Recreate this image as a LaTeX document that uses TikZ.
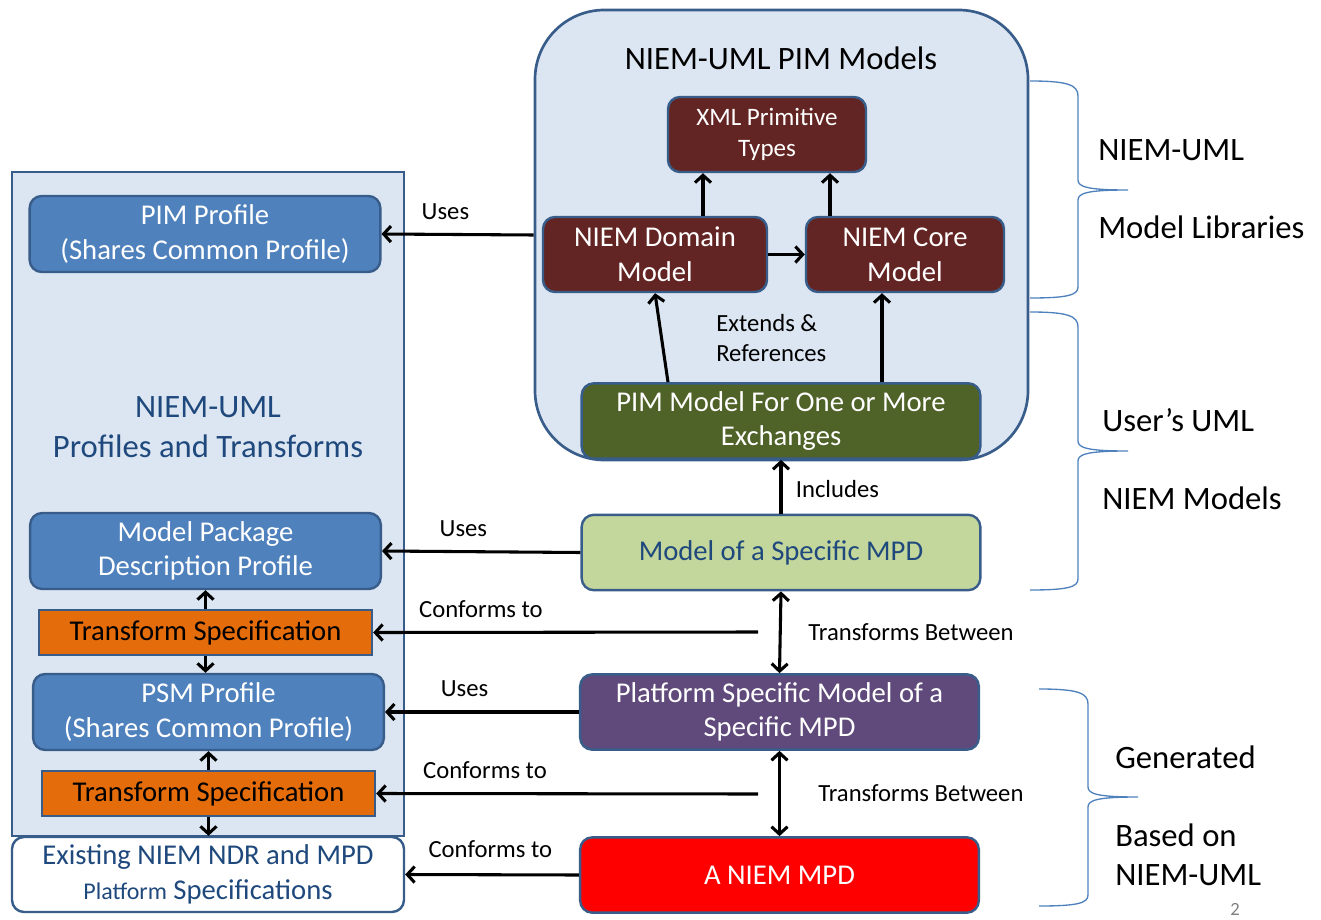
\documentclass[tikz,border=0pt]{standalone}
\usepackage{fontspec}
\setmainfont{Carlito}
\usetikzlibrary{arrows.meta}
\definecolor{panelblue}{HTML}{DCE6F2}
\definecolor{edgeblue}{HTML}{385D8A}
\definecolor{profblue}{HTML}{4F81BD}
\definecolor{libred}{HTML}{632523}
\definecolor{pimgreen}{HTML}{4F6228}
\definecolor{mpdgreen}{HTML}{C3D69B}
\definecolor{psmpurple}{HTML}{604A7B}
\definecolor{tsorange}{HTML}{E46C0A}
\definecolor{navytext}{HTML}{1F497D}
\newcommand{\boxfont}{\fontsize{21.5pt}{26pt}\selectfont}
\newcommand{\smallboxfont}{\fontsize{18.8pt}{23pt}\selectfont}
\newcommand{\lblfont}{\fontsize{18.5pt}{22.5pt}\selectfont}
\newcommand{\headfont}{\fontsize{24.5pt}{30pt}\selectfont}
\tikzset{>={Straight Barb[length=5.5pt,width=12pt]},
	panel/.style={rectangle,draw=edgeblue,fill=panelblue,line width=2pt},
	box/.style={rectangle,rounded corners=9pt,draw=edgeblue,line width=1.8pt,align=center,text=white,font=\boxfont,inner sep=0pt},
	libbox/.style={box,fill=libred,minimum height=56.25pt},
	profbox/.style={box,fill=profblue,minimum width=263pt,minimum height=57pt},
	tspec/.style={box,rounded corners=0pt,fill=tsorange,text=black,minimum width=249.75pt,minimum height=33.75pt},
	wide/.style={box,minimum width=299pt,minimum height=56.5pt},
	lbl/.style={font=\lblfont,inner sep=2pt},
	head/.style={font=\headfont,align=center},
	link/.style={line width=2.3pt},
	curly/.style={draw=profblue,line width=1pt}}
\begin{document}
\begin{tikzpicture}[x=0.75pt,y=-0.75pt]
	\useasboundingbox (0,0) rectangle (1321,920);
	\node (pimbox) at (781.5,235) [panel,rounded corners=52pt,minimum width=369.75pt,minimum height=337.5pt] {};
	\node (pimhead) at (781,58) [head] {NIEM-UML PIM Models};
	\node (xml) at (767,134.5) [libbox,minimum width=148.5pt,font=\smallboxfont] {XML Primitive\\Types};
	\node (domain) at (655,254.5) [libbox,minimum width=168pt] {NIEM Domain\\Model};
	\node (core) at (905,254.5) [libbox,minimum width=148.5pt] {NIEM Core\\Model};
	\node (pimmodel) at (781,421) [wide,fill=pimgreen] {PIM Model For One or More\\Exchanges};
	\node (extends) at (716,338) [lbl,anchor=west,align=left,inner sep=0pt] {Extends \&\\References};
	\node (profpanel) at (208,504) [panel,minimum width=294pt,minimum height=498pt] {};
	\node (profhead) at (208,427) [head,text=navytext] {NIEM-UML\\Profiles and Transforms};
	\node (pimprof) at (205,234) [profbox] {PIM Profile\\(Shares Common Profile)};
	\node (mpdprof) at (205.5,551) [profbox] {Model Package\\Description Profile};
	\node (ts1) at (205.5,632.5) [tspec] {Transform Specification};
	\node (psmprof) at (208.5,712) [profbox] {PSM Profile\\(Shares Common Profile)};
	\node (ts2) at (208.5,793.5) [tspec] {Transform Specification};
	\node (existing) at (208,874.5) [box,fill=white,text=navytext,minimum width=294pt,minimum height=56.25pt] {Existing NIEM NDR and MPD\\{\fontsize{18pt}{20pt}\selectfont Platform} Specifications};
	\node (specmpd) at (781,552.5) [wide,fill=mpdgreen,text=navytext] {Model of a Specific MPD};
	\node (psm) at (779.5,712) [wide,fill=psmpurple] {Platform Specific Model of a\\Specific MPD};
	\node (niemmpd) at (779.5,875) [wide,fill=red] {A NIEM MPD};
	\coordinate (cf1) at (758,632);
	\coordinate (cf2) at (758,794);
	\draw [link,->] ([xshift=36pt]domain.north) -- ([xshift=36pt]domain.north |- xml.south);
	\draw [link,->] ([xshift=-56.25pt]core.north) -- ([xshift=-56.25pt]core.north |- xml.south);
	\draw [link,->] (domain.east) -- (core.west);
	\draw [link,->] ([xshift=-84.75pt]pimmodel.north) -- (domain.south);
	\draw [link,->] ([xshift=75.75pt]pimmodel.north) -- ([xshift=75.75pt]pimmodel.north |- core.south);
	\draw [link,->] (specmpd.north) -- node[lbl,right=8pt,pos=0.45]{Includes} (pimmodel.south);
	\draw [link,<->] (specmpd.south) -- node[lbl,right=18pt,pos=0.5]{Transforms Between} (psm.north);
	\draw [link,<->] (psm.south) -- node[lbl,right=26pt,pos=0.5]{Transforms Between} (niemmpd.north);
	\draw [link,->] (pimbox.west) -- node[lbl,above=8pt,pos=0.58]{Uses} (pimprof.east);
	\draw [link,->] (specmpd.west) -- node[lbl,above=8pt,pos=0.59]{Uses} (mpdprof.east);
	\draw [link,->] (cf1) -- node[lbl,above=8pt,pos=0.72]{Conforms to} (ts1.east);
	\draw [link,->] (psm.west) -- node[lbl,above=8pt,pos=0.59]{Uses} (psmprof.east);
	\draw [link,->] (cf2) -- node[lbl,above=8pt,pos=0.715]{Conforms to} (ts2.east);
	\draw [link,->] (niemmpd.west) -- node[lbl,above=10pt,pos=0.51]{Conforms to} (existing.east);
	\draw [link,->] (ts1.north) -- (mpdprof.south);
	\draw [link,->] (ts1.south) -- (ts1.south |- psmprof.north);
	\draw [link,->] (ts2.north) -- (ts2.north |- psmprof.south);
	\draw [link,->] (ts2.south) -- (ts2.south |- existing.north);
	\draw [curly] (1030,81) .. controls (1068,81) and (1078,85) .. (1078,96) -- (1078,180) .. controls (1078,187) and (1088,190) .. (1128,190) .. controls (1088,190) and (1078,193) .. (1078,200) -- (1078,287) .. controls (1078,295) and (1068,298) .. (1030,298);
	\draw [curly] (1030,312) .. controls (1068,312) and (1078,316) .. (1078,327) -- (1078,441) .. controls (1078,448) and (1088,451) .. (1128,451) .. controls (1088,451) and (1078,454) .. (1078,461) -- (1078,579) .. controls (1078,587) and (1068,590) .. (1030,590);
	\draw [curly] (1039,689) .. controls (1078,689) and (1088,693) .. (1088,704) -- (1088,787) .. controls (1088,794) and (1098,797) .. (1138,797) .. controls (1098,797) and (1088,800) .. (1088,807) -- (1088,895) .. controls (1088,903) and (1078,906) .. (1039,906);
	\node (libtxt) at (1098,189) [head,anchor=west,align=left,inner sep=0pt,font=\fontsize{24.5pt}{58.5pt}\selectfont] {NIEM-UML\\Model Libraries};
	\node (usertxt) at (1102,459) [head,anchor=west,align=left,inner sep=0pt,font=\fontsize{24.5pt}{58.5pt}\selectfont] {User’s UML\\NIEM Models};
	\node (gentxt) at (1115,757) [head,anchor=west,inner sep=0pt] {Generated};
	\node (basedtxt) at (1115,855) [head,anchor=west,align=left,inner sep=0pt,font=\fontsize{24.5pt}{29pt}\selectfont] {Based on\\NIEM-UML};
	\node (pagenum) at (1235,909) [font=\fontsize{14pt}{16pt}\selectfont,text=gray] {2};
\end{tikzpicture}
\end{document}
